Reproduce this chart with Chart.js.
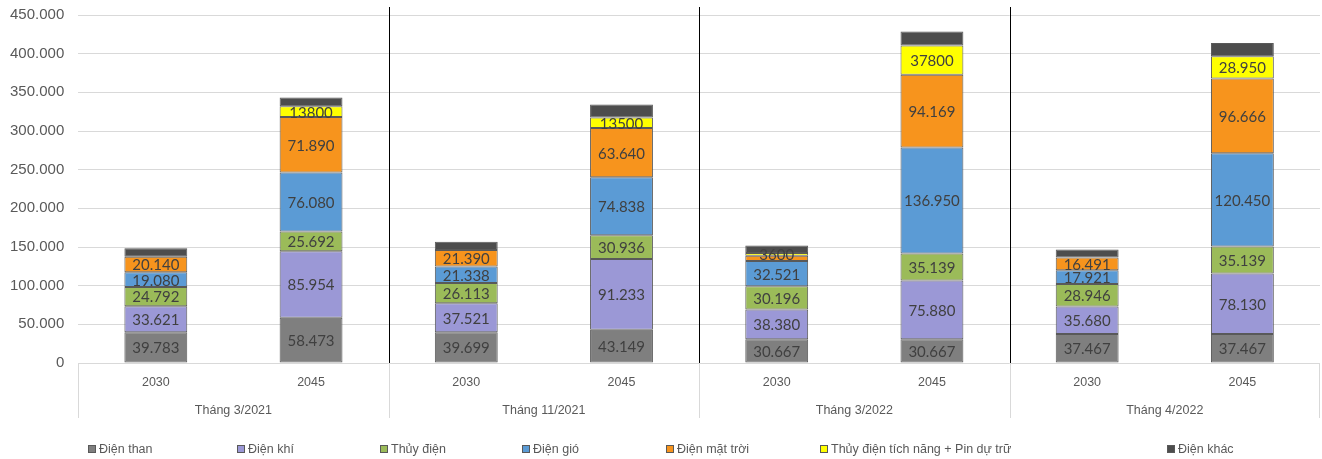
<!DOCTYPE html>
<html>
<head>
<meta charset="utf-8">
<script src="https://cdn.jsdelivr.net/npm/chart.js@4.4.1/dist/chart.umd.min.js"></script>
<style>
  html, body { margin: 0; padding: 0; background: #fff; }
  #wrap { position: relative; width: 1322px; height: 459px; }
  #legend {
    position: absolute; left: 0; top: 440px; width: 1322px; height: 18px;
    font-family: "Liberation Sans", Arial, sans-serif; font-size: 12.5px; color: #595959;
  }
  #legend .item { position: absolute; top: 0; white-space: nowrap; line-height: 18px; }
  #legend .box { display: inline-block; width: 8px; height: 8px; margin-right: 3px; vertical-align: 0px; }
</style>
</head>
<body>
<div id="wrap">
  <canvas id="chart" width="1322" height="459"></canvas>
  <div id="legend"></div>
</div>
<script>
// categories
const years = ["2030", "2045", "2030", "2045", "2030", "2045", "2030", "2045"];
const groups = ["Tháng 3/2021", "Tháng 11/2021", "Tháng 3/2022", "Tháng 4/2022"];

// series values (MW)
const dienThan = [39783, 58473, 39699, 43149, 30667, 30667, 37467, 37467];
const dienKhi = [33621, 85954, 37521, 91233, 38380, 75880, 35680, 78130];
const thuyDien = [24792, 25692, 26113, 30936, 30196, 35139, 28946, 35139];
const dienGio = [19080, 76080, 21338, 74838, 32521, 136950, 17921, 120450];
const dienMatTroi = [20140, 71890, 21390, 63640, 7000, 94169, 16491, 96666];
const tichNang = [0, 13800, 0, 13500, 3600, 37800, 0, 28950];
const dienKhac = [11000, 11500, 10800, 17000, 9500, 18000, 10400, 17000];

// the storage labels are printed as in the source (some without separator)
const tichNangLabels = ["", "13800", "", "13500", "3600", "37800", "", "28.950"];

// tick labels
const yTicks = [0, 50000, 100000, 150000, 200000, 250000, 300000, 350000, 400000, 450000];

const fmt = (v) => String(v).replace(/\B(?=(\d{3})+(?!\d))/g, ".");

const datasets = [
  { label: "Điện than", data: dienThan, backgroundColor: "#7f7f7f" },
  { label: "Điện khí", data: dienKhi, backgroundColor: "#9b98d6" },
  { label: "Thủy điện", data: thuyDien, backgroundColor: "#9bbb59" },
  { label: "Điện gió", data: dienGio, backgroundColor: "#5b9bd5" },
  { label: "Điện mặt trời", data: dienMatTroi, backgroundColor: "#f7941d", noLabel: [4] },
  { label: "Thủy điện tích năng + Pin dự trữ", data: tichNang, backgroundColor: "#ffff00", texts: tichNangLabels },
  { label: "Điện khác", data: dienKhac, backgroundColor: "#4d4d4d", noLabel: [0, 1, 2, 3, 4, 5, 6, 7] },
].map((d) => ({
  ...d,
  borderColor: "#595959",
  borderWidth: 1,
  borderSkipped: false,
  xAxisID: "x",
  categoryPercentage: 1,
  barPercentage: 0.405,
}));

// value labels in the middle of each segment
const segmentLabels = {
  id: "segmentLabels",
  afterDatasetsDraw(chart) {
    const ctx = chart.ctx;
    ctx.save();
    ctx.font = "15px Lato, 'Open Sans', sans-serif";
    ctx.fillStyle = "#404040";
    ctx.textAlign = "center";
    ctx.textBaseline = "middle";
    chart.data.datasets.forEach((ds, i) => {
      chart.getDatasetMeta(i).data.forEach((bar, j) => {
        const v = ds.data[j];
        if (!v) return;
        if (ds.noLabel && ds.noLabel.includes(j)) return;
        const txt = ds.texts ? ds.texts[j] : fmt(v);
        ctx.fillText(txt, bar.x, (bar.y + bar.base) / 2 + 1);
      });
    });
    ctx.restore();
  },
};

// group separators: black inside the plot, light gray in the axis area
const groupLines = {
  id: "groupLines",
  beforeDatasetsDraw(chart) {
    const { ctx, chartArea, scales } = chart;
    const x = scales.x;
    const bottom = scales.x2.bottom - 1;
    ctx.save();
    ctx.lineWidth = 1;
    const edges = [Math.round(chartArea.left) + 0.5];
    for (let g = 1; g < groups.length; g++) {
      edges.push(Math.round((x.getPixelForValue(2 * g - 1) + x.getPixelForValue(2 * g)) / 2) + 0.5);
    }
    edges.push(Math.round(chartArea.right) - 0.5);
    edges.forEach((px, k) => {
      ctx.strokeStyle = "#d9d9d9";
      ctx.beginPath();
      ctx.moveTo(px, chartArea.bottom);
      ctx.lineTo(px, bottom);
      ctx.stroke();
      if (k > 0 && k < edges.length - 1) {
        ctx.strokeStyle = "#000000";
        ctx.beginPath();
        ctx.moveTo(px, chartArea.top - 8);
        ctx.lineTo(px, chartArea.bottom);
        ctx.stroke();
      }
    });
    ctx.restore();
  },
};

const myChart = new Chart(document.getElementById("chart"), {
  type: "bar",
  data: { labels: years, datasets: datasets },
  options: {
    responsive: false,
    animation: false,
    layout: { padding: { top: 15, left: -4, right: 2, bottom: 40 } },
    plugins: {
      legend: { display: false },
      tooltip: { enabled: false },
    },
    scales: {
      x: {
        stacked: true,
        grid: { display: false, drawTicks: false },
        border: { display: false },
        ticks: { color: "#595959", font: { family: "Liberation Sans", size: 12.5 }, padding: 12 },
      },
      x2: {
        type: "category",
        labels: groups,
        position: "bottom",
        offset: true,
        grid: { display: false, drawTicks: false },
        border: { display: false },
        ticks: { color: "#595959", font: { family: "Liberation Sans", size: 12.5 }, padding: 1 },
      },
      y: {
        stacked: true,
        min: 0,
        max: 450000,
        afterBuildTicks: (axis) => {
          axis.ticks = yTicks.map((v) => ({ value: v }));
        },
        // the tick padding should not push the plot down
        afterFit: (axis) => {
          axis.paddingTop = 0;
        },
        grid: { color: "#d9d9d9", drawTicks: false },
        border: { display: false },
        ticks: {
          color: "#595959",
          font: { family: "Liberation Sans", size: 15 },
          padding: 14,
          callback: (v) => fmt(v),
        },
      },
    },
  },
  plugins: [groupLines, segmentLabels],
});

// legend, built from the datasets
const legendStarts = [88, 237, 380, 522, 666, 820, 1167];
const legend = document.getElementById("legend");
myChart.data.datasets.forEach((ds, i) => {
  const item = document.createElement("span");
  item.className = "item";
  item.style.left = legendStarts[i] + "px";
  item.innerHTML = `<span class="box" style="background:${ds.backgroundColor};border:1px solid #595959;box-sizing:border-box"></span>${ds.label}`;
  legend.appendChild(item);
});
</script>
</body>
</html>
